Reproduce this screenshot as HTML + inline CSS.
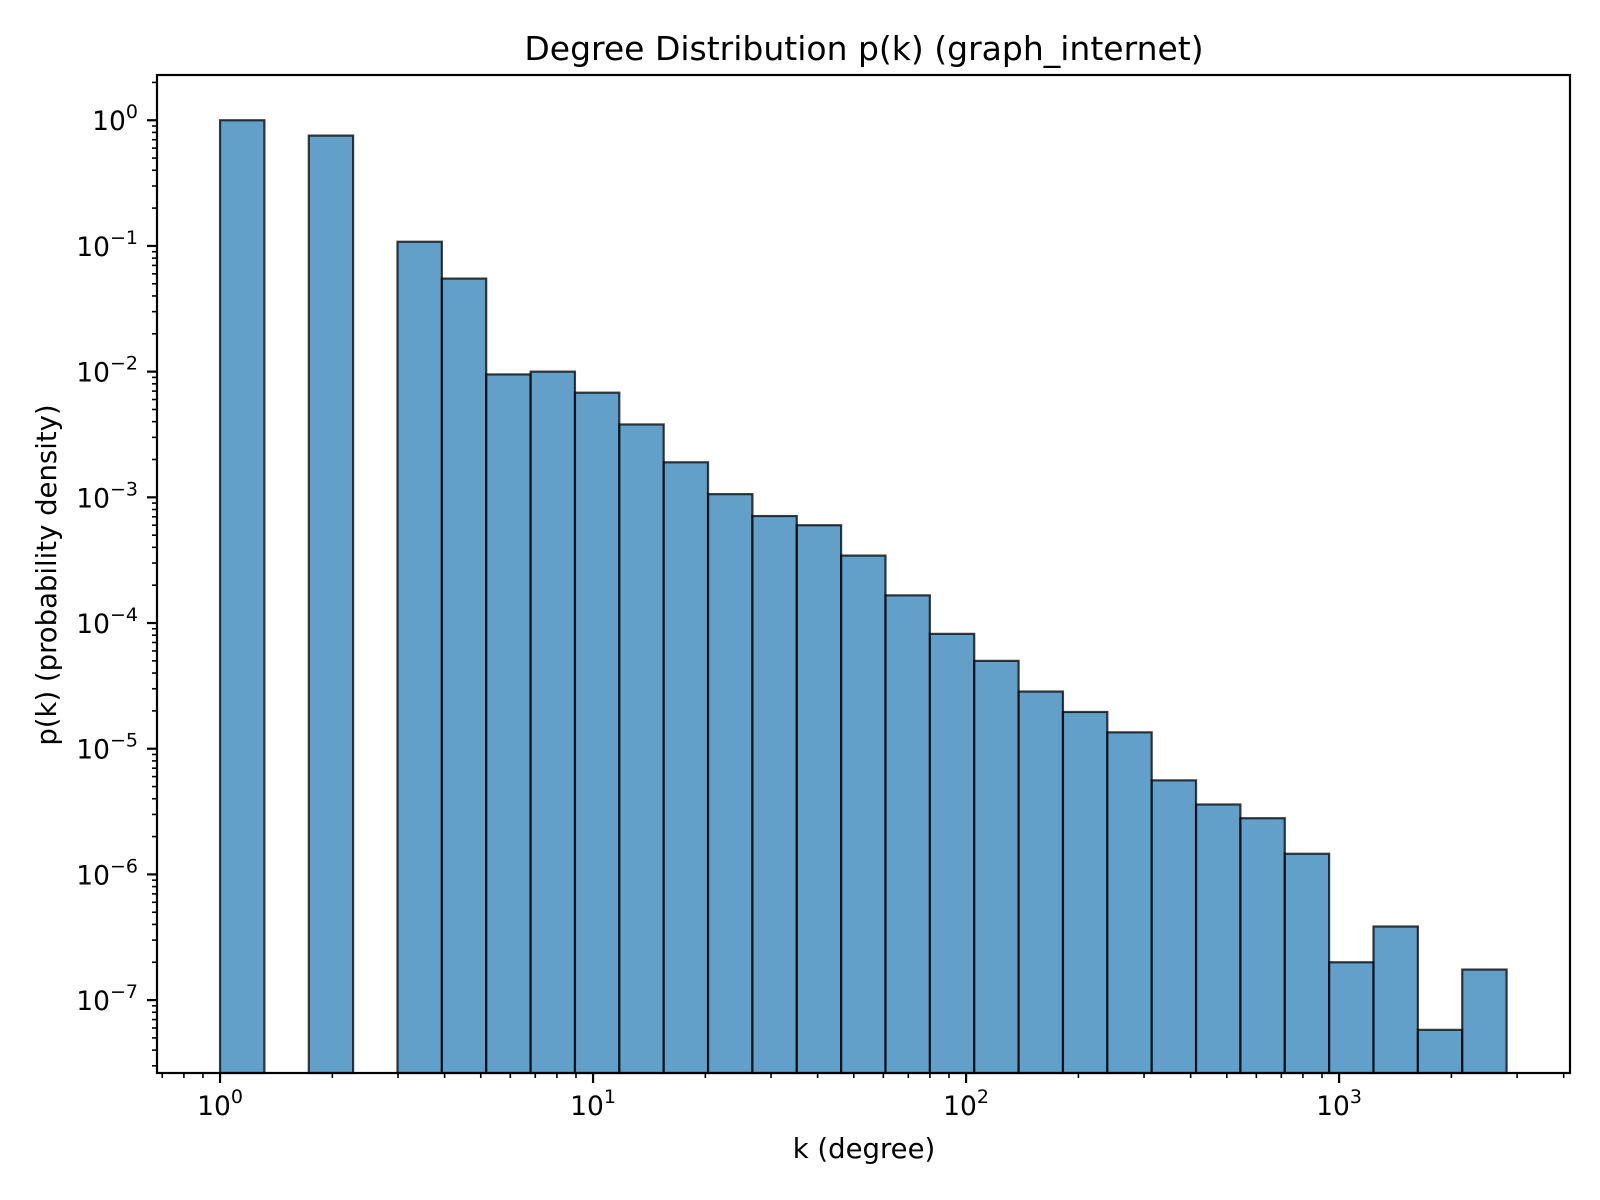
<!DOCTYPE html>
<html><head><meta charset="utf-8"><style>
body{margin:0;background:#fff}
svg{display:block;font-family:"DejaVu Sans","Liberation Sans",sans-serif}
</style></head><body>
<svg id="chart" width="1600" height="1200" viewBox="0 0 1600 1200">
<rect width="1600" height="1200" fill="#fff"/>
<text x="864" y="60" font-size="33" text-anchor="middle">Degree Distribution p(k) (graph_internet)</text>
<g id="bars"></g>
<g id="axes"></g>
<text x="864" y="1158" font-size="27.5" text-anchor="middle">k (degree)</text>
<text transform="translate(56,575) rotate(-90)" font-size="27.5" text-anchor="middle">p(k) (probability density)</text>
</svg>
<script>
const binCount = 29;
const kMin = 1;
const kMax = 2812;
const densities = [1.0, 0, 0.755, 0, 0.108, 0.055, 0.0095, 0.0100, 0.0068, 0.0038, 0.0019, 0.00106, 0.00071, 0.0006, 0.000344, 0.000166, 8.2e-5, 5.0e-5, 2.85e-5, 1.96e-5, 1.35e-5, 5.6e-6, 3.6e-6, 2.8e-6, 1.46e-6, 2.0e-7, 3.85e-7, 5.8e-8, 1.75e-7];
const xTickExps = [0, 1, 2, 3];
const yTickExps = [0, -1, -2, -3, -4, -5, -6, -7];

const L=157,R=1570,T=75,B=1073;
const xLogMin=-0.169,xLogMax=3.619,yLogMin=-7.58,yLogMax=0.36;
const xs=v=>L+(Math.log10(v)-xLogMin)/(xLogMax-xLogMin)*(R-L);
const ys=v=>B-(Math.log10(v)-yLogMin)/(yLogMax-yLogMin)*(B-T);
const NS='http://www.w3.org/2000/svg';
function mk(tag,attrs,parent){const e=document.createElementNS(NS,tag);for(const k in attrs)e.setAttribute(k,attrs[k]);parent.appendChild(e);return e;}
const bars=document.getElementById('bars'),axes=document.getElementById('axes');
const lmin=Math.log10(kMin),lmax=Math.log10(kMax),step=(lmax-lmin)/binCount;
densities.forEach((d,i)=>{
  if(d<=0)return;
  const x0=xs(Math.pow(10,lmin+i*step)),x1=xs(Math.pow(10,lmin+(i+1)*step));
  const y=ys(d);
  const r=mk('rect',{x:x0,y:y,width:x1-x0,height:B-y,fill:'rgba(31,119,180,0.7)',stroke:'rgba(0,0,0,0.75)','stroke-width':2.2},bars);
  
  
});
mk('rect',{x:L,y:T,width:R-L,height:B-T,fill:'none',stroke:'#000','stroke-width':2.2},axes);
xTickExps.forEach(e=>{
  const x=xs(Math.pow(10,e));
  mk('line',{x1:x,x2:x,y1:B,y2:B+10,stroke:'#000','stroke-width':2.2},axes);
  const t=mk('text',{x:x,y:B+42,'font-size':26.5,'text-anchor':'middle'},axes);
  
  
  t.innerHTML='10<tspan dy="-12" font-size="19">'+e+'</tspan>';
});
for(let e=-1;e<=3;e++)for(let m=2;m<=9;m++){
  const v=m*Math.pow(10,e);const x=xs(v);
  if(x<L||x>R)continue;
  mk('line',{x1:x,x2:x,y1:B,y2:B+5,stroke:'#000','stroke-width':1.6},axes);
}
yTickExps.forEach(e=>{
  const y=ys(Math.pow(10,e));
  mk('line',{x1:L-10,x2:L,y1:y,y2:y,stroke:'#000','stroke-width':2.2},axes);
  const t=mk('text',{x:L-19,y:y+10,'font-size':26.5,'text-anchor':'end'},axes);
  
  
  t.innerHTML='10<tspan dy="-12" font-size="19">'+(e<0?'\u2212'+(-e):e)+'</tspan>';
});
for(let e=-8;e<=0;e++)for(let m=2;m<=9;m++){
  const y=ys(m*Math.pow(10,e));
  if(y<T||y>B)continue;
  mk('line',{x1:L-5,x2:L,y1:y,y2:y,stroke:'#000','stroke-width':1.6},axes);
}
</script>
</body></html>
